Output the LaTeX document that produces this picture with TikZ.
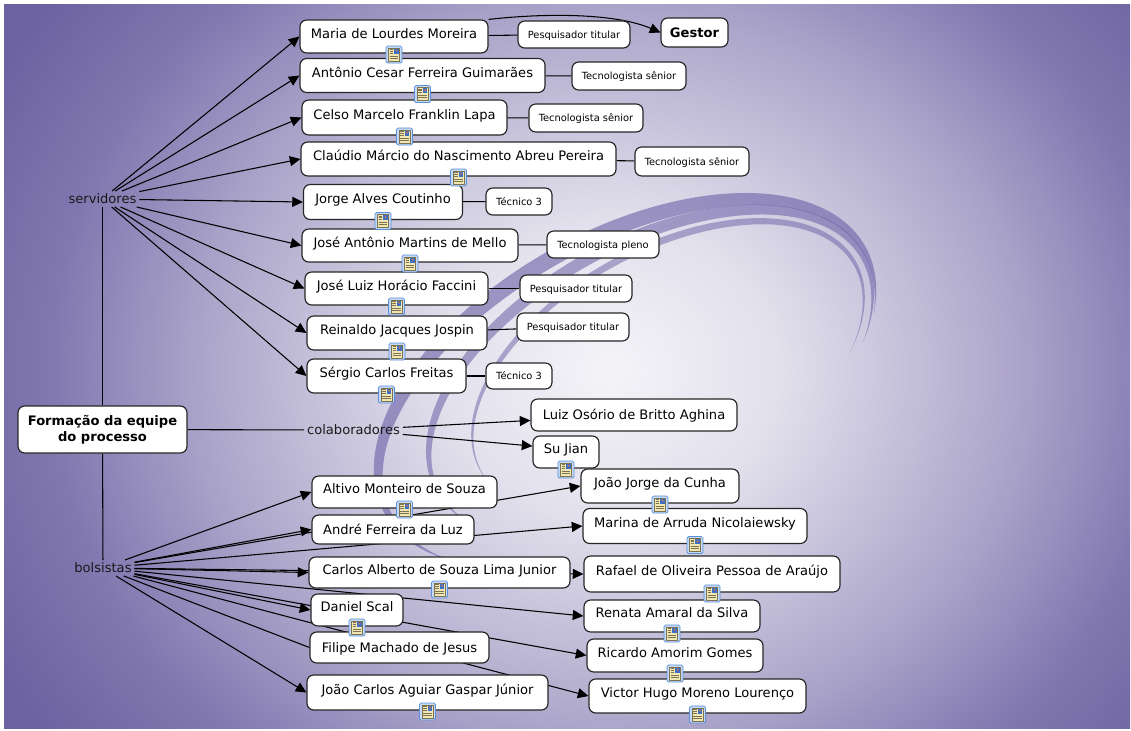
\documentclass[tikz,border=0pt]{standalone}
\usepackage{fontspec}
\setmainfont{DejaVu Sans}
\usetikzlibrary{arrows.meta}

\pgfdeclarelayer{bg}
\pgfdeclarelayer{links}
\pgfsetlayers{bg,links,main}

% background tones
\definecolor{bgA}{HTML}{F4F4F8}
\definecolor{bgB}{HTML}{E2E0EC}
\definecolor{bgC}{HTML}{ACA5CA}
\definecolor{bgD}{HTML}{8178B0}
\definecolor{bgE}{HTML}{6C62A0}
\definecolor{swirl}{HTML}{6A5FA6}
\definecolor{framebl}{HTML}{5B8FD6}
\definecolor{framefill}{HTML}{C4DAF6}
\definecolor{pagefill}{HTML}{EFE7B4}
\definecolor{pageline}{HTML}{7D7150}
\definecolor{picblue}{HTML}{3D6FC4}
\definecolor{picorange}{HTML}{E8703A}

% the inner 25bp radius is stretched onto the shaded path's bounding box
\pgfdeclareradialshading{bgshade}{\pgfpoint{0bp}{0bp}}{%
  color(0bp)=(bgA); color(6bp)=(bgB); color(14.5bp)=(bgC);
  color(20bp)=(bgD); color(25bp)=(bgE); color(50bp)=(bgE)}

\newcommand\fmain{\fontsize{9.8}{12}\selectfont}
\newcommand\fsmall{\fontsize{7.4}{9}\selectfont}

% tapered elliptical ribbon: cx, cy, rx, ry, tilt, from, to, width
\newcommand\ribbonpath[8]{%
  plot[domain=#6:#7, samples=90, variable=\t]
    ({#1 + (#3)*cos(\t)*cos(#5) - (#4)*sin(\t)*sin(#5)},
     {#2 + (#3)*cos(\t)*sin(#5) + (#4)*sin(\t)*cos(#5)})
  -- plot[domain=#7:#6, samples=90, variable=\t]
    ({#1 + (#3-#8*sin((\t-#6)/(#7-#6)*180))*cos(\t)*cos(#5)
         - (#4-#8*sin((\t-#6)/(#7-#6)*180))*sin(\t)*sin(#5)},
     {#2 + (#3-#8*sin((\t-#6)/(#7-#6)*180))*cos(\t)*sin(#5)
         + (#4-#8*sin((\t-#6)/(#7-#6)*180))*sin(\t)*cos(#5)})
  -- cycle}

\tikzset{
  x=0.75pt, y=-0.75pt,
  concept/.style={draw=black!85, fill=white, rounded corners=5pt,
    line width=0.85pt, inner sep=0pt, font=\fmain, text=black,
    text height=7.2pt, text depth=0pt},
  withicon/.style={text depth=4.5pt},
  role/.style={concept, font=\fsmall, text height=5.4pt, text depth=0pt},
  sz/.style 2 args={minimum width=#1*0.75pt, minimum height=#2*0.75pt},
  phrase/.style={inner sep=2pt, font=\fmain, text=black!90},
  link/.style={draw=black, line width=0.8pt},
  arr/.style={link, -{Triangle[length=8pt,width=7.5pt]}},
  docicon/.pic={
    \draw[fill=framefill, draw=framebl, line width=0.6pt, rounded corners=1.2pt]
      (-8,-8.5) rectangle (8,8.5);
    \draw[fill=pagefill, draw=pageline, line width=0.45pt] (-5.5,-6.5) rectangle (5.5,6.5);
    \fill[picblue] (0.3,-5.6) rectangle (4.6,-0.8);
    \fill[picorange] (2.6,-3.9) circle (1);
    \draw[pageline, line width=0.45pt] (-4.4,-5.2) -- (-1,-5.2)
      (-4.4,-3.4) -- (-1,-3.4) (-4.4,-1.6) -- (-1,-1.6)
      (-4.4,1.4) -- (4.4,1.4) (-4.4,3.6) -- (4.4,3.6);
  }
}
\newcommand\iconat[1]{\path (#1.south) ++(0,1) pic {docicon};}

\begin{document}
\begin{tikzpicture}
\useasboundingbox (0,0) rectangle (1131,731);

% ---------- backdrop ----------
\begin{pgfonlayer}{bg}
  \fill[white] (0,0) rectangle (1131,731);
  \begin{scope}
    \clip (4,5) rectangle (1130,728);
    \shade[shading=bgshade] (-90,-250) rectangle (1310,990);
    \fill[swirl, opacity=0.6] \ribbonpath{625}{380}{275}{150}{-29}{150}{385}{16};
    \fill[swirl, opacity=0.55] \ribbonpath{650}{372}{245}{135}{-29}{160}{395}{12};
    \fill[swirl, opacity=0.5] \ribbonpath{668}{366}{215}{120}{-29}{172}{400}{7};
  \end{scope}
\end{pgfonlayer}

% ---------- root and linking phrases ----------
\node[concept, sz={169}{47}, align=center, font=\fmain\bfseries,
      text height=, text depth=] (root) at (102.5,429.5)
  {Formação da equipe\\do processo};
\node[phrase] (serv)  at (102.5,199) {servidores};
\node[phrase] (colab) at (353.5,430) {colaboradores};
\node[phrase] (bols)  at (103,568)   {bolsistas};

% ---------- servidores ----------
\node[concept, withicon, sz={188}{33}] (m1) at (394,36.5)   {Maria de Lourdes Moreira};
\node[concept, withicon, sz={245}{34}] (m2) at (422.5,75.5) {Antônio Cesar Ferreira Guimarães};
\node[concept, withicon, sz={205}{35}] (m3) at (404.5,117.5){Celso Marcelo Franklin Lapa};
\node[concept, withicon, sz={315}{34}] (m4) at (458.5,159)  {Claúdio Márcio do Nascimento Abreu Pereira};
\node[concept, withicon, sz={159}{35}] (m5) at (383,202)    {Jorge Alves Coutinho};
\node[concept, withicon, sz={216}{33}] (m6) at (410,245.5)  {José Antônio Martins de Mello};
\node[concept, withicon, sz={183}{33}] (m7) at (396.5,288.5){José Luiz Horácio Faccini};
\node[concept, withicon, sz={180}{34}] (m8) at (397,333)    {Reinaldo Jacques Jospin};
\node[concept, withicon, sz={159}{34}] (m9) at (386.5,376)  {Sérgio Carlos Freitas};

\node[role, sz={112}{27}] (r1) at (574,34.5)  {Pesquisador titular};
\node[concept, sz={67}{29}, font=\fmain\bfseries] (gestor) at (694.5,32.5) {Gestor};
\node[role, sz={114}{28}] (r2) at (629,76)    {Tecnologista sênior};
\node[role, sz={114}{28}] (r3) at (586,118)   {Tecnologista sênior};
\node[role, sz={114}{29}] (r4) at (692,161.5) {Tecnologista sênior};
\node[role, sz={66}{27}]  (r5) at (519,201.5) {Técnico 3};
\node[role, sz={112}{27}] (r6) at (603,244.5) {Tecnologista pleno};
\node[role, sz={112}{27}] (r7) at (576,288.5) {Pesquisador titular};
\node[role, sz={112}{28}] (r8) at (573,327)   {Pesquisador titular};
\node[role, sz={66}{26}]  (r9) at (519,376)   {Técnico 3};

% ---------- colaboradores ----------
\node[concept, sz={206}{32}] (c1) at (634,415) {Luiz Osório de Britto Aghina};
\node[concept, withicon, sz={66}{32}] (c2) at (566,452) {Su Jian};

% ---------- bolsistas ----------
\node[concept, withicon, sz={185}{32}] (b1) at (404.5,492)  {Altivo Monteiro de Souza};
\node[concept, sz={162}{29}]           (b2) at (393,529.5)  {André Ferreira da Luz};
\node[concept, withicon, sz={261}{31}] (b3) at (439.5,572.5){Carlos Alberto de Souza Lima Junior};
\node[concept, withicon, sz={92}{32}]  (b4) at (357,610)    {Daniel Scal};
\node[concept, sz={179}{31}]           (b5) at (399.5,647.5){Filipe Machado de Jesus};
\node[concept, withicon, sz={241}{35}] (b6) at (427.5,692.5){João Carlos Aguiar Gaspar Júnior};
\node[concept, withicon, sz={158}{34}] (b7) at (660,486)    {João Jorge da Cunha};
\node[concept, withicon, sz={224}{35}] (b8) at (695,526)    {Marina de Arruda Nicolaiewsky};
\node[concept, withicon, sz={256}{36}] (b9) at (712,574)    {Rafael de Oliveira Pessoa de Araújo};
\node[concept, withicon, sz={176}{32}] (b10) at (672,616)   {Renata Amaral da Silva};
\node[concept, withicon, sz={176}{33}] (b11) at (675,655.5) {Ricardo Amorim Gomes};
\node[concept, withicon, sz={217}{34}] (b12) at (697.5,696) {Victor Hugo Moreno Lourenço};

% ---------- resource icons ----------
\foreach \n in {m1,m2,m3,m4,m5,m6,m7,m8,m9,c2,b1,b3,b4,b6,b7,b8,b9,b10,b11,b12}
  {\iconat{\n}}

% ---------- connections ----------
\begin{pgfonlayer}{links}
  \draw[link] (serv) -- (root);
  \draw[link] (root) -- (bols);
  \draw[link] (root) -- (colab);

  \foreach \n in {m1,m2,m3,m4,m5,m6,m7,m8,m9}
    {\draw[arr] (serv) -- (\n.west);}
  \foreach \a/\b in {m1/r1,m2/r2,m3/r3,m4/r4,m5/r5,m6/r6,m7/r7,m8/r8,m9/r9}
    {\draw[link] (\a) -- (\b);}
  \draw[arr] (m1.north east) .. controls (545,13) and (615,13) .. (gestor.west);

  \draw[arr] (colab) -- (c1.183);
  \draw[arr] (colab) -- (c2.170);

  \foreach \n in {b1,b2,b3,b4,b6,b7,b8,b9,b10,b11,b12}
    {\draw[arr] (bols) -- (\n.west);}
  \draw[link] (bols) -- (b5.west);
\end{pgfonlayer}
\end{tikzpicture}
\end{document}
